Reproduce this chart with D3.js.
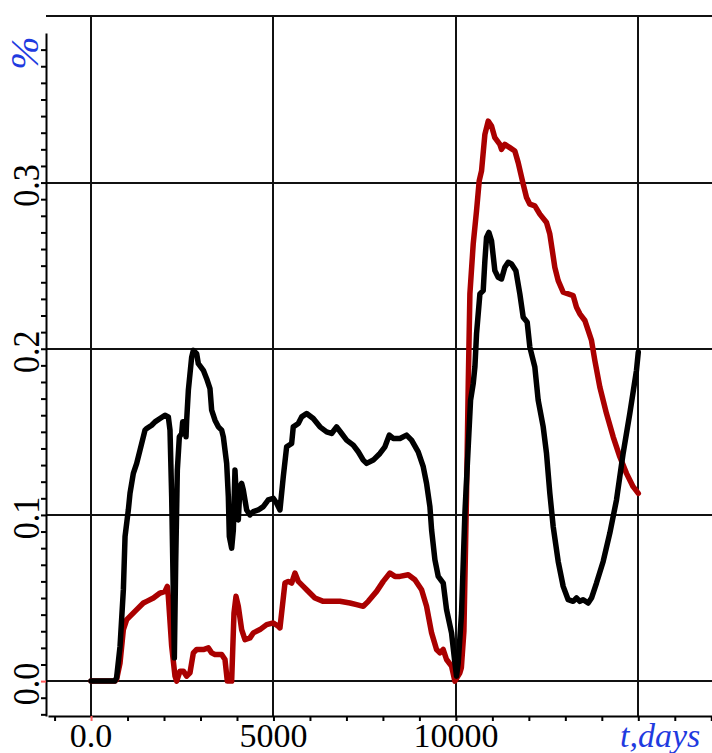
<!DOCTYPE html>
<html>
<head>
<meta charset="utf-8">
<script src="https://cdn.jsdelivr.net/npm/d3@7"></script>
<style>
  html, body { margin: 0; padding: 0; background: #fff; }
  svg { display: block; }
  text { font-family: "Liberation Serif", "Times New Roman", serif; }
</style>
</head>
<body>
<svg id="chart" width="712" height="753"></svg>
<script>
// Time axis (days) and the two percentage series
const blackDays = [0, 650, 700, 795, 886, 932, 1022, 1068, 1159, 1251, 1342, 1479, 1525, 1662, 1753, 1890, 2027, 2118, 2164, 2210, 2256, 2283, 2320, 2365, 2420, 2484, 2511, 2570, 2603, 2621, 2667, 2758, 2804, 2895, 2941, 3078, 3169, 3260, 3306, 3397, 3489, 3580, 3626, 3717, 3763, 3790, 3854, 3900, 3945, 3991, 4037, 4082, 4128, 4173, 4265, 4356, 4447, 4584, 4721, 4858, 4995, 5087, 5178, 5269, 5361, 5498, 5543, 5680, 5772, 5909, 6091, 6274, 6457, 6594, 6731, 6868, 7005, 7187, 7324, 7461, 7553, 7735, 7918, 8055, 8174, 8283, 8466, 8648, 8785, 8967, 9105, 9196, 9288, 9334, 9425, 9516, 9653, 9744, 9881, 9973, 10018, 10064, 10155, 10247, 10338, 10402, 10475, 10521, 10566, 10658, 10749, 10795, 10840, 10904, 10977, 11068, 11159, 11251, 11342, 11434, 11525, 11644, 11753, 11845, 11954, 12027, 12164, 12256, 12393, 12484, 12575, 12667, 12804, 12941, 13078, 13214, 13306, 13397, 13489, 13626, 13717, 13854, 14037, 14219, 14402, 14584, 14767, 14950, 15000];
const blackPct = [0, 0, 0.002, 0.021, 0.055, 0.087, 0.103, 0.113, 0.125, 0.131, 0.139, 0.151, 0.152, 0.154, 0.156, 0.158, 0.160, 0.159, 0.151, 0.111, 0.051, 0.014, 0.071, 0.127, 0.147, 0.149, 0.156, 0.156, 0.147, 0.157, 0.175, 0.195, 0.199, 0.197, 0.191, 0.187, 0.182, 0.176, 0.163, 0.157, 0.153, 0.151, 0.147, 0.131, 0.111, 0.087, 0.080, 0.091, 0.127, 0.107, 0.097, 0.117, 0.119, 0.115, 0.103, 0.100, 0.102, 0.103, 0.105, 0.109, 0.110, 0.107, 0.103, 0.123, 0.141, 0.143, 0.153, 0.155, 0.159, 0.161, 0.158, 0.153, 0.150, 0.149, 0.153, 0.149, 0.145, 0.142, 0.138, 0.133, 0.131, 0.133, 0.137, 0.141, 0.148, 0.146, 0.146, 0.148, 0.145, 0.138, 0.129, 0.119, 0.105, 0.091, 0.073, 0.063, 0.059, 0.043, 0.029, 0.011, 0.003, 0.011, 0.041, 0.101, 0.141, 0.169, 0.179, 0.189, 0.209, 0.233, 0.235, 0.253, 0.267, 0.270, 0.265, 0.247, 0.243, 0.242, 0.249, 0.252, 0.251, 0.247, 0.233, 0.219, 0.216, 0.201, 0.189, 0.169, 0.153, 0.137, 0.113, 0.093, 0.072, 0.057, 0.049, 0.048, 0.050, 0.048, 0.049, 0.047, 0.050, 0.059, 0.072, 0.089, 0.109, 0.137, 0.161, 0.187, 0.198];

const redDays = [0, 650, 700, 795, 886, 977, 1114, 1251, 1434, 1525, 1708, 1890, 2027, 2091, 2118, 2210, 2301, 2347, 2438, 2530, 2621, 2712, 2804, 2895, 3078, 3214, 3306, 3397, 3580, 3671, 3735, 3854, 3918, 3973, 4037, 4128, 4219, 4356, 4447, 4630, 4813, 4995, 5132, 5178, 5315, 5406, 5498, 5589, 5680, 5817, 5909, 6137, 6365, 6639, 6822, 7096, 7279, 7461, 7598, 7827, 8009, 8192, 8329, 8466, 8694, 8877, 9060, 9196, 9334, 9470, 9562, 9653, 9744, 9881, 9973, 10110, 10150, 10220, 10290, 10340, 10384, 10475, 10566, 10639, 10703, 10795, 10886, 10977, 11068, 11205, 11251, 11342, 11479, 11616, 11708, 11845, 11936, 12027, 12164, 12301, 12484, 12575, 12712, 12804, 12941, 13078, 13214, 13306, 13397, 13534, 13626, 13717, 13808, 13945, 14128, 14311, 14493, 14676, 14858, 15000];
const redPct = [0, 0, 0.001, 0.011, 0.031, 0.037, 0.040, 0.043, 0.047, 0.048, 0.050, 0.053, 0.054, 0.057, 0.051, 0.021, 0.003, 0, 0.006, 0.006, 0.003, 0.005, 0.017, 0.019, 0.019, 0.020, 0.017, 0.016, 0.016, 0.013, 0, 0, 0.041, 0.051, 0.045, 0.031, 0.025, 0.026, 0.029, 0.031, 0.034, 0.035, 0.033, 0.032, 0.059, 0.060, 0.059, 0.065, 0.060, 0.057, 0.055, 0.050, 0.048, 0.048, 0.048, 0.047, 0.046, 0.045, 0.048, 0.054, 0.060, 0.065, 0.063, 0.063, 0.064, 0.061, 0.055, 0.045, 0.029, 0.019, 0.017, 0.019, 0.013, 0.009, 0, 0.005, 0.008, 0.030, 0.110, 0.180, 0.233, 0.263, 0.283, 0.301, 0.307, 0.329, 0.337, 0.334, 0.327, 0.323, 0.320, 0.323, 0.321, 0.319, 0.312, 0.299, 0.291, 0.287, 0.286, 0.281, 0.276, 0.269, 0.249, 0.241, 0.234, 0.233, 0.232, 0.225, 0.221, 0.217, 0.211, 0.205, 0.193, 0.177, 0.161, 0.147, 0.135, 0.125, 0.117, 0.113];

// Tick values and their labels
const xLabelValues = [0, 5000, 10000];
const xLabels = ["0.0", "5000", "10000"];
const yLabelValues = [0, 0.1, 0.2, 0.3];
const yLabels = ["0.0", "0.1", "0.2", "0.3"];
const xGridValues = [0, 5000, 10000, 15000];
const yGridValues = [0, 0.1, 0.2, 0.3, 0.4];
const xAxisTitle = "t,days";
const yAxisTitle = "%";

const svg = d3.select("#chart");
const x = d3.scaleLinear().domain([-1180, 17020]).range([48, 712]);
const y = d3.scaleLinear().domain([-0.021, 0.39]).range([716, 33]);

const blue = "#1f3be0";

// Grid (snapped to whole pixels so the 2px lines stay crisp)
const grid = svg.append("g");
grid.selectAll("line.h").data(yGridValues).join("line")
  .attr("x1", 46).attr("x2", 712)
  .attr("y1", d => Math.round(y(d))).attr("y2", d => Math.round(y(d)))
  .attr("stroke", "#111").attr("stroke-width", 2);
grid.selectAll("line.v").data(xGridValues).join("line")
  .attr("x1", d => Math.round(x(d))).attr("x2", d => Math.round(x(d)))
  .attr("y1", Math.round(y(0.4))).attr("y2", 716)
  .attr("stroke", "#111").attr("stroke-width", 2);

// Minor-tick axes
const xTicks = d3.range(-1, 18).map(i => i * 1000);
const yTicks = d3.range(-2, 39).map(i => i / 100);

const xAxis = svg.append("g").attr("transform", "translate(0,716)")
  .call(d3.axisBottom(x).tickValues(xTicks).tickSize(5).tickSizeOuter(0).tickFormat(""));
const yAxis = svg.append("g").attr("transform", "translate(46,0)")
  .call(d3.axisLeft(y).tickValues(yTicks).tickSize(5).tickSizeOuter(0).tickFormat(""));
[xAxis, yAxis].forEach(a => {
  a.select(".domain").attr("stroke", "#000").attr("stroke-width", 2);
  a.selectAll(".tick line").attr("stroke", "#000").attr("stroke-width", 2);
});
// origin ticks in red
xAxis.selectAll(".tick").filter(d => d === 0).select("line").attr("stroke", "#ff5a5a");
yAxis.selectAll(".tick").filter(d => d === 0).select("line").attr("stroke", "#ff5a5a");

// Tick labels
svg.append("g").selectAll("text").data(xLabelValues).join("text")
  .attr("x", d => x(d)).attr("y", 747)
  .attr("text-anchor", "middle")
  .attr("font-size", 34).attr("fill", "#000")
  .text((d, i) => xLabels[i]);

svg.append("g").selectAll("text").data(yLabelValues).join("text")
  .attr("transform", d => `translate(39,${y(d) + 3}) rotate(-90) scale(1,1.12)`)
  .attr("text-anchor", "middle")
  .attr("font-size", 34).attr("fill", "#000")
  .text((d, i) => yLabels[i]);

// Axis titles
svg.append("text")
  .attr("x", 620).attr("y", 747)
  .attr("font-size", 34).attr("font-style", "italic").attr("fill", blue)
  .text(xAxisTitle);
svg.append("text")
  .attr("transform", "translate(38,53) rotate(-90)")
  .attr("text-anchor", "middle")
  .attr("font-size", 40).attr("font-style", "italic").attr("fill", blue)
  .text(yAxisTitle);

// Series
const line = d3.line().x(d => x(d[0])).y(d => y(d[1]));
const redPts = redDays.map((t, i) => [t, redPct[i]]);
const blackPts = blackDays.map((t, i) => [t, blackPct[i]]);

svg.append("path").datum(redPts)
  .attr("d", line).attr("fill", "none")
  .attr("stroke", "#aa0000").attr("stroke-width", 5.5)
  .attr("stroke-linejoin", "round").attr("stroke-linecap", "round");
svg.append("path").datum(blackPts)
  .attr("d", line).attr("fill", "none")
  .attr("stroke", "#000").attr("stroke-width", 5.5)
  .attr("stroke-linejoin", "round").attr("stroke-linecap", "round");
</script>
</body>
</html>
